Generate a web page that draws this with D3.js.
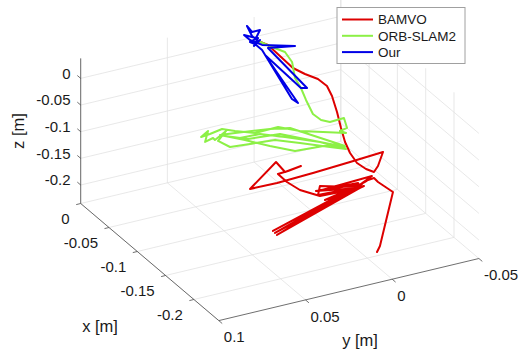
<!DOCTYPE html>
<html>
<head>
<meta charset="utf-8">
<script src="https://cdn.jsdelivr.net/npm/d3@7"></script>
<style>
  body { margin: 0; background: #fff; }
  svg { font-family: "Liberation Sans", Arial, Helvetica, sans-serif; }
</style>
</head>
<body>
<svg id="chart" width="521" height="349"></svg>
<script>
// axis limits (tight) and ticks, in metres
const xLim = [-0.244, 0], yLim = [-0.05, 0.1], zLim = [-0.2347, 0.0375];
const xTicks = [0, -0.05, -0.1, -0.15, -0.2];
const yTicks = [0.1, 0.05, 0, -0.05];
const zTicks = [0, -0.05, -0.1, -0.15, -0.2];
const xTickLabels = ["0", "-0.05", "-0.1", "-0.15", "-0.2"];
const yTickLabels = ["0.1", "0.05", "0", "-0.05"];
const zTickLabels = ["0", "-0.05", "-0.1", "-0.15", "-0.2"];

const names = ["BAMVO", "ORB-SLAM2", "Our"];
const colors = ["#dd0000", "#8cf046", "#0000e6"];

// trajectories [x, y, z]
const bamvo = [
  [0,-0.0023,-0.0093],[0,-0.008,-0.0212],[0,-0.0149,-0.0473],[0,-0.0224,-0.0756],
  [-0.05,-0.013,-0.0345],[-0.05,-0.0205,-0.0497],[-0.05,-0.0257,-0.0669],[-0.05,-0.0286,-0.0879],
  [-0.05,-0.0315,-0.1202],[-0.05,-0.0338,-0.152],[-0.1,-0.0198,-0.1223],[-0.1,-0.0227,-0.1452],
  [-0.1,-0.0267,-0.1671],[-0.1,-0.0319,-0.1824],[-0.1,-0.0365,-0.1916],[-0.1,-0.0388,-0.1821],
  [-0.1,-0.0417,-0.1581],[-0.1,-0.0227,-0.1621],[-0.1,-0.0013,-0.1661],[-0.1,0.0194,-0.1688],
  [-0.1,0.035,-0.1679],[-0.1,0.02,-0.1289],[-0.1,0.0148,-0.1517],[-0.1,0.0056,-0.1476],
  [-0.1,0.0131,-0.1512],[-0.1,0.0189,-0.1523],[-0.1,0.0137,-0.1714],[-0.1,0.0062,-0.1922],
  [-0.15,0.011,-0.1547],[-0.15,-0.0006,-0.1562],[-0.15,-0.011,-0.153],[-0.15,-0.019,-0.1405],
  [-0.15,0.0098,-0.1444],[-0.15,-0.0133,-0.151],[-0.15,0.0081,-0.1645],[-0.15,-0.0121,-0.1576],
  [-0.15,0.0133,-0.1436],[-0.15,-0.011,-0.1474],[-0.15,0.0063,-0.1696],[-0.15,-0.0144,-0.1557],
  [-0.15,0.0121,-0.1519],[-0.15,0.011,-0.136],[-0.15,-0.0092,-0.1535],
  [-0.2,0.0532,-0.1463],[-0.15,-0.0121,-0.1576],[-0.2,0.0521,-0.1509],[-0.15,-0.0092,-0.1535],
  [-0.2,0.0544,-0.1416],[-0.15,-0.015,-0.1486],[-0.15,-0.0167,-0.1462],[-0.15,-0.0202,-0.1451],
  [-0.15,-0.0225,-0.1544],[-0.2,-0.0148,-0.1222],[-0.2,-0.0073,-0.2177],[-0.2,-0.0056,-0.2276]
];
const orbslam = [
  [0,-0.0023,-0.0093],[0,-0.0063,-0.018],[0,-0.0103,-0.0268],[0,-0.0178,-0.042],
  [0,-0.0219,-0.0639],[0,-0.0236,-0.0953],[-0.05,-0.0107,-0.059],[-0.05,-0.0136,-0.0837],
  [-0.05,-0.0176,-0.1132],[-0.05,-0.0223,-0.128],[-0.05,-0.0274,-0.1358],[-0.05,-0.0355,-0.1345],
  [-0.05,-0.0373,-0.1546],[-0.05,-0.0332,-0.1571],[-0.05,-0.0367,-0.1636],[-0.05,-0.0101,-0.1392],
  [-0.05,0.0025,-0.1219],[-0.05,0.0158,-0.1228],[-0.05,0.0273,-0.1101],[-0.05,0.0348,-0.1005],
  [-0.05,0.0418,-0.1045],[-0.05,0.0469,-0.1061],[-0.05,0.0429,-0.098],[-0.05,0.0446,-0.1173],
  [-0.05,0.04,-0.1134],[-0.05,0.0389,-0.118],[-0.05,0.0325,-0.1061],[-0.05,0.0371,-0.1212],
  [-0.05,0.0302,-0.1379],[-0.05,0.0187,-0.1412],[-0.05,0.0043,-0.1449],[-0.05,-0.0101,-0.1617],
  [-0.05,-0.0274,-0.1827],[-0.05,-0.0367,-0.1936],[-0.05,-0.0217,-0.1688],[-0.05,-0.0015,-0.1438],
  [-0.05,0.0129,-0.1269],[-0.05,0.0245,-0.1255],[-0.05,0.0331,-0.115],[-0.05,0.0198,-0.1309],
  [-0.05,0.0014,-0.1359],[-0.05,-0.0159,-0.1606],[-0.05,-0.0361,-0.1894],[-0.05,-0.0303,-0.1793],
  [-0.05,-0.0073,-0.1745],[-0.05,0.0072,-0.1539],[-0.05,0.0216,-0.1315],[-0.05,0.036,-0.1109],
  [-0.05,0.0273,-0.1139],[-0.05,0.0072,-0.122],[-0.05,-0.0044,-0.1291],[-0.05,-0.0361,-0.1875]
];
const ours = [
  [0,-0.0023,-0.0093],[0,0.0012,0.0028],[0,0.0041,0.0238],[0,0.0012,0.0103],
  [0,-0.0034,0.0105],[0,-0.0011,-0.0027],[0,0.0058,0.0083],[0,0.0024,-0.0038],
  [0,-0.0046,-0.0185],[0,-0.0236,-0.0352],[0,-0.008,-0.0269],[-0.05,-0.0142,-0.0617],
  [-0.05,-0.0107,-0.059],[0,-0.0063,-0.0387],[-0.05,-0.009,-0.0858],[-0.05,-0.0055,-0.0756],
  [0,-0.0046,-0.0279],[0,-0.0005,-0.0135],[0,0.0024,-0.0075],[0,-0.0023,-0.0036],
  [0,0.0001,-0.0168],[0,-0.0034,-0.0083]
];
const tracks = [bamvo, orbslam, ours];

// view: corner (x=0, y=0.1, z=min) on screen, plus the screen vectors of each axis
const corner = [80.7, 203.5];
const xVec = [138.1, 117.1], yVec = [260.1, -62.1];
const xs = d3.scaleLinear().domain([xLim[1], xLim[0]]).range([0, 1]);
const ys = d3.scaleLinear().domain([yLim[1], yLim[0]]).range([0, 1]);
const zs = d3.scaleLinear().domain(zLim).range([0, -145.1]);

function proj(p) {
  const a = xs(p[0]), b = ys(p[1]);
  return [corner[0] + a * xVec[0] + b * yVec[0],
          corner[1] + a * xVec[1] + b * yVec[1] + zs(p[2])];
}

const svg = d3.select("#chart");
const x0 = xLim[1], x1 = xLim[0], y0 = yLim[1], y1 = yLim[0], zb = zLim[0], zt = zLim[1];

// grid lines: floor, back wall (x=0), right wall (y=-0.05)
const grid = [];
xTicks.forEach(t => { grid.push([[t, y0, zb], [t, y1, zb]]); grid.push([[t, y1, zb], [t, y1, zt]]); });
yTicks.forEach(t => { grid.push([[x0, t, zb], [x1, t, zb]]); grid.push([[x0, t, zb], [x0, t, zt]]); });
zTicks.forEach(t => { grid.push([[x0, y0, t], [x0, y1, t]]); grid.push([[x0, y1, t], [x1, y1, t]]); });

const line = d3.line().x(d => proj(d)[0]).y(d => proj(d)[1]);

svg.append("g").selectAll("path").data(grid).join("path")
  .attr("d", line).attr("fill", "none")
  .attr("stroke", "#e2e2e2").attr("stroke-width", 0.8);

// axis lines
const axes = [
  [[x0, y0, zb], [x1, y0, zb]],
  [[x1, y0, zb], [x1, y1, zb]],
  [[x0, y0, zb], [x0, y0, zt]]
];
svg.append("g").selectAll("path").data(axes).join("path")
  .attr("d", line).attr("fill", "none")
  .attr("stroke", "#4a4a4a").attr("stroke-width", 0.8);

// tick marks (pointing out of the box)
const tk = svg.append("g").attr("stroke", "#4a4a4a").attr("stroke-width", 0.8);
xTicks.forEach(t => { const p = proj([t, y0, zb]); tk.append("line").attr("x1", p[0]).attr("y1", p[1]).attr("x2", p[0] - 4.5).attr("y2", p[1] + 1.1); });
yTicks.forEach(t => { const p = proj([x1, t, zb]); tk.append("line").attr("x1", p[0]).attr("y1", p[1]).attr("x2", p[0] + 3.4).attr("y2", p[1] + 2.9); });
zTicks.forEach(t => { const p = proj([x0, y0, t]); tk.append("line").attr("x1", p[0]).attr("y1", p[1]).attr("x2", p[0] - 3.4).attr("y2", p[1] - 2.9); });

// tick labels
const lab = svg.append("g").attr("font-size", 15).attr("fill", "#1a1a1a");
xTicks.forEach((t, i) => { const p = proj([t, y0, zb]);
  lab.append("text").attr("x", p[0] - 11).attr("y", p[1] + 15.5).attr("dy", "0.35em")
    .attr("text-anchor", "end").text(xTickLabels[i]); });
yTicks.forEach((t, i) => { const p = proj([x1, t, zb]);
  lab.append("text").attr("x", p[0] + 5).attr("y", p[1] + 16.5).attr("dy", "0.35em")
    .attr("text-anchor", "start").text(yTickLabels[i]); });
zTicks.forEach((t, i) => { const p = proj([x0, y0, t]);
  lab.append("text").attr("x", 70.5).attr("y", p[1] - 5).attr("dy", "0.35em")
    .attr("text-anchor", "end").text(zTickLabels[i]); });

// axis labels
const al = svg.append("g").attr("font-size", 16.5).attr("fill", "#1a1a1a").attr("text-anchor", "middle");
al.append("text").attr("x", 100).attr("y", 326).attr("dy", "0.35em").text("x [m]");
al.append("text").attr("x", 360).attr("y", 340).attr("dy", "0.35em").text("y [m]");
al.append("text").attr("transform", "translate(18,131) rotate(-90)").attr("dy", "0.35em").text("z [m]");

// trajectories
svg.append("g").selectAll("path").data(tracks).join("path")
  .attr("d", line).attr("fill", "none")
  .attr("stroke", (d, i) => colors[i]).attr("stroke-width", 2)
  .attr("stroke-linejoin", "round").attr("stroke-linecap", "round");

// legend
const lg = svg.append("g");
lg.append("rect").attr("x", 337).attr("y", 7.5).attr("width", 128).attr("height", 56)
  .attr("fill", "#fff").attr("stroke", "#a0a0a0").attr("stroke-width", 1);
names.forEach((n, i) => {
  const yy = 19.5 + i * 16.3;
  lg.append("line").attr("x1", 342).attr("x2", 373).attr("y1", yy).attr("y2", yy)
    .attr("stroke", colors[i]).attr("stroke-width", 2);
  lg.append("text").attr("x", 378).attr("y", yy).attr("dy", "0.35em")
    .attr("font-size", 13.5).attr("fill", "#1a1a1a").text(n);
});
</script>
</body>
</html>
